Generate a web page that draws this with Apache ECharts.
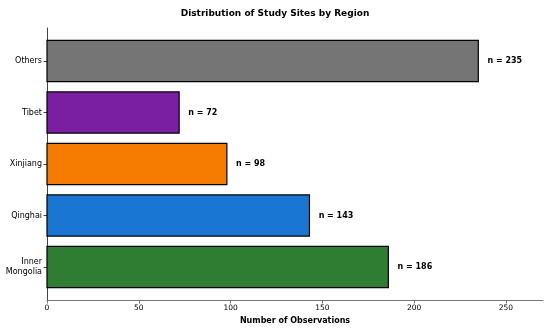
<!DOCTYPE html>
<html>
<head>
<meta charset="utf-8">
<script src="https://cdn.jsdelivr.net/npm/echarts@6/dist/echarts.min.js"></script>
<style>html,body{margin:0;padding:0;background:#fff}#c{width:550px;height:329px}</style>
</head>
<body>
<div id="c"></div>
<script>
// Data (bottom to top)
const categories = ['Inner\nMongolia', 'Qinghai', 'Xinjiang', 'Tibet', 'Others'];
const values = [186, 143, 98, 72, 235];
const colors = ['#2E7D32', '#1976D2', '#F57C00', '#7B1FA2', '#757575'];
const xTicks = [0, 50, 100, 150, 200, 250];

const chart = echarts.init(document.getElementById('c'), null, {renderer: 'canvas'});
const font = 'DejaVu Sans';
const idx = categories.map((_, i) => i);
const xMax = Math.max(...values) * 1.15;

chart.setOption({
  animation: false,
  title: {
    text: 'Distribution of Study Sites by Region',
    left: 'center', top: 4,
    textStyle: {fontFamily: font, fontSize: 9, fontWeight: 'bold', color: '#000'}
  },
  grid: {left: 47, right: 7, top: 28, bottom: 29, containLabel: false, outerBoundsMode: 'none'},
  xAxis: {
    type: 'value', min: 0, max: xMax, interval: 50,
    name: 'Number of Observations', nameLocation: 'middle', nameGap: 17,
    nameTextStyle: {fontFamily: font, fontSize: 8, fontWeight: 'bold', color: '#000'},
    axisLine: {show: true, onZero: false, lineStyle: {color: '#777', width: 1}},
    axisTick: {show: true, length: 3.5, lineStyle: {color: '#777'}, customValues: xTicks},
    axisLabel: {fontFamily: font, fontSize: 7.5, color: '#000', margin: 4, customValues: xTicks,
      formatter: v => String(v)},
    splitLine: {show: false}
  },
  yAxis: {
    type: 'value', min: -0.64, max: categories.length - 1 + 0.64,
    axisLine: {show: true, onZero: false, lineStyle: {color: '#444', width: 1}},
    axisTick: {show: true, length: 3.5, lineStyle: {color: '#444'}, customValues: idx},
    axisLabel: {fontFamily: font, fontSize: 8, color: '#000', margin: 5, lineHeight: 9.5,
      customValues: idx, formatter: v => categories[Math.round(v)]},
    splitLine: {show: false}
  },
  series: [{
    type: 'custom',
    data: values.map((v, i) => [v, i]),
    clip: false,
    renderItem: function (params, api) {
      const v = api.value(0), c = api.value(1);
      const p0 = api.coord([0, c + 0.4]);
      const p1 = api.coord([v, c - 0.4]);
      const pl = api.coord([v + 5, c]);
      return {
        type: 'group',
        children: [{
          type: 'rect',
          shape: {x: p0[0], y: p0[1], width: p1[0] - p0[0], height: p1[1] - p0[1]},
          style: {fill: colors[c], stroke: '#000', lineWidth: 1.2}
        }, {
          type: 'text',
          x: pl[0], y: pl[1],
          style: {text: 'n = ' + v, fontFamily: font, fontSize: 8, fontWeight: 'bold',
            fill: '#000', align: 'left', verticalAlign: 'middle'}
        }]
      };
    }
  }]
});
</script>
</body>
</html>
